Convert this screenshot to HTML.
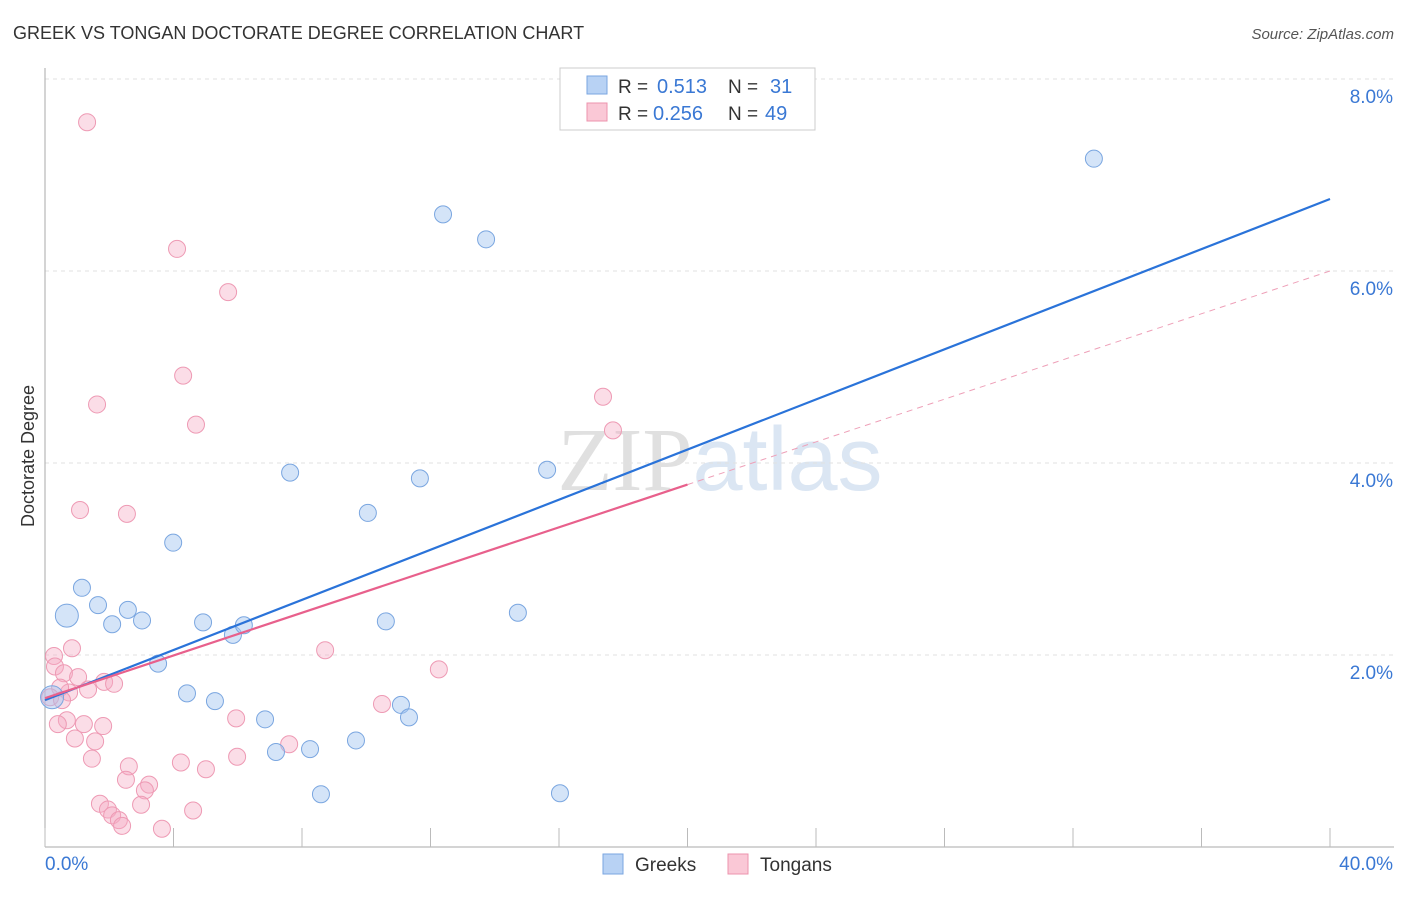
<!DOCTYPE html>
<html><head><meta charset="utf-8"><style>
body{margin:0;background:#fff;font-family:"Liberation Sans",sans-serif}
svg text{font-family:"Liberation Sans",sans-serif}
</style></head><body>
<svg id="chart" width="1406" height="892">
<text x="13" y="39" font-size="18" fill="#333">GREEK VS TONGAN DOCTORATE DEGREE CORRELATION CHART</text>
<text x="1394" y="39" font-size="15" fill="#555" font-style="italic" text-anchor="end">Source: ZipAtlas.com</text>
<text x="720" y="490" font-size="90" text-anchor="middle" fill="#e6e6e6"><tspan font-family="Liberation Serif" fill="#e0e0e0">ZIP</tspan><tspan fill="#dbe6f3">atlas</tspan></text>
<g id="grid"></g>
<g id="axes"></g>
<g id="marks"></g>
<g id="trends"></g>
<text transform="translate(34,456) rotate(-90)" font-size="18" fill="#333" text-anchor="middle">Doctorate Degree</text>
<g>
<rect x="560" y="68" width="255" height="62" fill="#fff" stroke="#ccc"/>
<rect x="587" y="76" width="20" height="18" fill="#b8d2f4" stroke="#7aa6e0"/>
<rect x="587" y="103" width="20" height="18" fill="#fac8d6" stroke="#ec93ad"/>
<text x="618" y="93" font-size="19" fill="#333">R =</text>
<text x="657" y="93" font-size="20" fill="#3a78d4">0.513</text>
<text x="728" y="93" font-size="19" fill="#333">N =</text>
<text x="770" y="93" font-size="20" fill="#3a78d4">31</text>
<text x="618" y="120" font-size="19" fill="#333">R =</text>
<text x="653" y="120" font-size="20" fill="#3a78d4">0.256</text>
<text x="728" y="120" font-size="19" fill="#333">N =</text>
<text x="765" y="120" font-size="20" fill="#3a78d4">49</text>
</g>
<g>
<rect x="603" y="854" width="20" height="20" fill="#b8d2f4" stroke="#7aa6e0"/>
<text x="635" y="871" font-size="19" fill="#333">Greeks</text>
<rect x="728" y="854" width="20" height="20" fill="#fac8d6" stroke="#ec93ad"/>
<text x="760" y="871" font-size="19" fill="#333">Tongans</text>
</g>
</svg>
<script>
const xTicks=[0,40];
const yTicks=[2,4,6,8];
const greekX=[0.68,1.15,1.65,2.09,2.58,3.02,3.52,3.99,4.42,4.92,5.29,5.85,6.19,6.85,7.19,7.63,8.25,8.59,9.68,10.05,10.61,11.08,11.33,11.67,12.39,13.73,14.72,15.63,16.03,32.65,0.22];
const greekY=[2.41,2.70,2.52,2.32,2.47,2.36,1.91,3.17,1.60,2.34,1.52,2.21,2.31,1.33,0.99,3.90,1.02,0.55,1.11,3.48,2.35,1.48,1.35,3.84,6.59,6.33,2.44,3.93,0.56,7.17,1.56];
const tonganX=[1.31,4.11,5.70,4.30,1.62,4.70,1.09,2.55,17.37,17.68,0.84,8.72,12.26,0.28,0.31,0.59,1.03,1.84,2.15,1.34,0.75,0.47,0.16,5.95,0.68,0.40,1.21,1.81,0.93,1.56,10.49,7.60,1.46,5.98,4.23,5.01,2.61,2.52,3.24,3.11,1.71,2.99,1.96,2.09,2.30,2.40,3.64,4.61,0.53];
const tonganY=[7.55,6.23,5.78,4.91,4.61,4.40,3.51,3.47,4.69,4.34,2.07,2.05,1.85,1.99,1.88,1.81,1.77,1.72,1.70,1.64,1.61,1.66,1.56,1.34,1.32,1.28,1.28,1.26,1.13,1.10,1.49,1.07,0.92,0.94,0.88,0.81,0.84,0.70,0.65,0.59,0.45,0.44,0.39,0.33,0.28,0.22,0.19,0.38,1.53];
const greekTrend=[1.53,6.75];
const tonganTrend=[1.55,6.0];
const NS="http://www.w3.org/2000/svg";
const X=v=>45+v*32.125, Y=v=>847-v*96;
function mk(t,a,p){const e=document.createElementNS(NS,t);for(const k in a)e.setAttribute(k,a[k]);document.getElementById(p).appendChild(e);return e;}
yTicks.forEach(t=>{
 const l=mk('line',{x1:45,x2:1394,y1:Y(t),y2:Y(t),stroke:'#e2e2e2','stroke-dasharray':'4,4'},'grid');
 
 
 const tx=mk('text',{x:1393,y:Y(t)+24,'font-size':19,fill:'#3a78d4','text-anchor':'end'},'grid');
 tx.textContent=t.toFixed(1)+'%';
 
 
});
mk('line',{x1:45,x2:45,y1:68,y2:847,stroke:'#aaa'},'axes');
mk('line',{x1:45,x2:1394,y1:847,y2:847,stroke:'#aaa'},'axes');
for(let i=0;i<=10;i++){const x=X(i*4);mk('line',{x1:x,x2:x,y1:828,y2:847,stroke:'#bbb'},'axes');}
xTicks.forEach((t,i)=>{
 const tx=mk('text',{x:i?1393:45,y:870,'font-size':19,fill:'#3a78d4','text-anchor':i?'end':'start'},'axes');
 tx.textContent=t.toFixed(1)+'%';
 
 
});
tonganX.forEach((v,i)=>{
 const c=mk('circle',{cx:X(v),cy:Y(tonganY[i]),r:8.5,fill:'rgba(246,170,195,0.4)',stroke:'#ee9ab4','stroke-width':1},'marks');
 
 
});
greekX.forEach((v,i)=>{
 const big=(i===0||i===30);
 const c=mk('circle',{cx:X(v),cy:Y(greekY[i]),r:big?11.5:8.5,fill:'rgba(160,196,240,0.45)',stroke:'#7aa6e0','stroke-width':1},'marks');
 
 
});
const gl=mk('line',{x1:X(0),y1:Y(greekTrend[0]),x2:X(40),y2:Y(greekTrend[1]),stroke:'#2a73d9','stroke-width':2.2},'trends');


const mid=tonganTrend[0]+(tonganTrend[1]-tonganTrend[0])*0.5;
const tl=mk('line',{x1:X(0),y1:Y(tonganTrend[0]),x2:X(20),y2:Y(mid),stroke:'#e8608c','stroke-width':2.2},'trends');


const td=mk('line',{x1:X(20),y1:Y(mid),x2:X(40),y2:Y(tonganTrend[1]),stroke:'#eea0b8','stroke-width':1,'stroke-dasharray':'6,5'},'trends');


</script>
</body></html>
